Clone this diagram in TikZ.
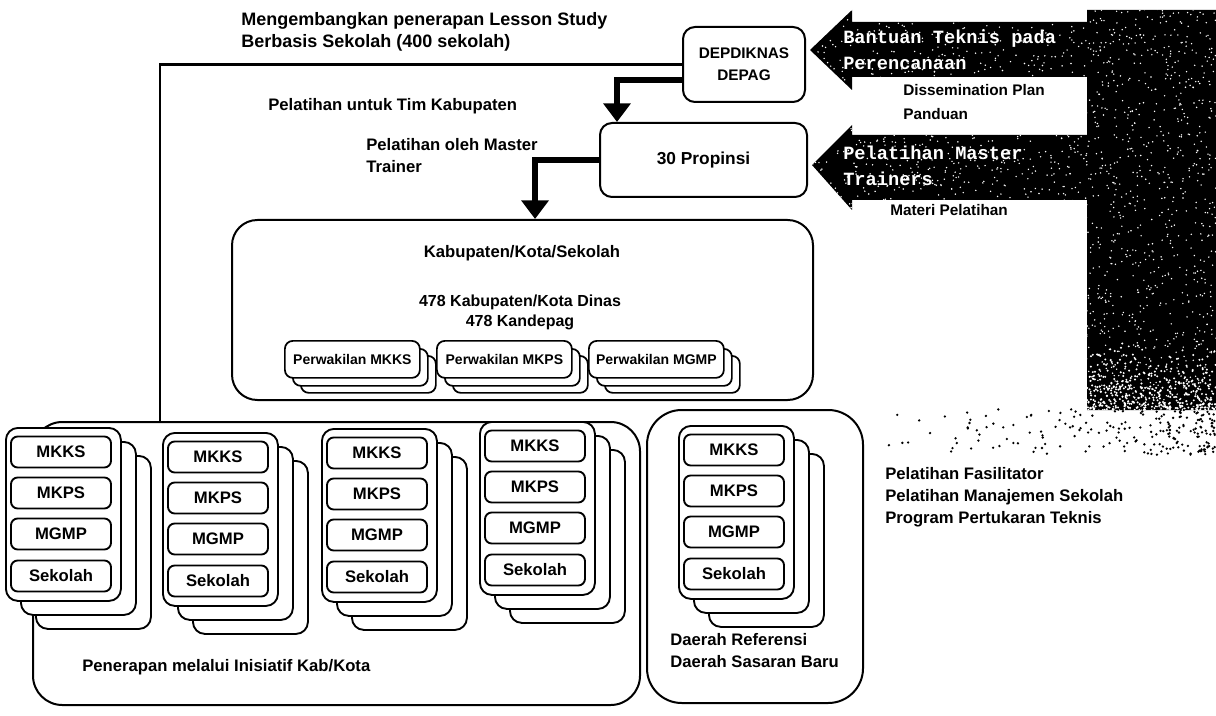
\documentclass[tikz,border=0pt]{standalone}
\usepackage{fontspec}
\setmainfont{Liberation Sans}
\newfontfamily\monob{Liberation Mono}
\usetikzlibrary{arrows.meta,calc}
\newcommand\cardstack[3]{%
  \node[card,anchor=north west] (#1b2) at (#2+30,#3+28) {};
  \node[card,anchor=north west] (#1b1) at (#2+15,#3+14) {};
  \node[card,anchor=north west] (#1) at (#2,#3) {};
  \node[row] (#1r1) at (#2+56,#3+25) {MKKS};
  \node[row] (#1r2) at (#2+56,#3+66) {MKPS};
  \node[row] (#1r3) at (#2+56,#3+107) {MGMP};
  \node[row] (#1r4) at (#2+56,#3+149) {Sekolah};
}
\newcommand\pstack[4]{%
  \node[pcard,anchor=north west] (#1b2) at (#2+16,#3+15) {};
  \node[pcard,anchor=north west] (#1b1) at (#2+8,#3+8) {};
  \node[pcard,anchor=north west] (#1) at (#2,#3) {#4};
}
\begin{document}
\begin{tikzpicture}[x=0.75pt,y=-0.75pt,
  box/.style={draw,fill=white,line width=1.5pt,rounded corners=9pt,inner sep=0pt,align=center},
  card/.style={draw,fill=white,line width=1.4pt,rounded corners=9pt,inner sep=0pt,minimum width=86.25pt,minimum height=129.75pt},
  row/.style={draw,fill=white,line width=1.4pt,rounded corners=5pt,inner sep=0pt,minimum width=75pt,minimum height=23.25pt,font=\bfseries\fontsize{12.5}{14}\selectfont},
  pcard/.style={draw,fill=white,line width=1.3pt,rounded corners=6pt,inner sep=0pt,minimum width=101.25pt,minimum height=27.75pt,font=\bfseries\fontsize{10.5}{12}\selectfont},
  lbl/.style={font=\bfseries\fontsize{12.5}{16.5}\selectfont,align=left,inner sep=0pt,anchor=west},
  wlbl/.style={font=\monob\bfseries\fontsize{14}{19.5}\selectfont,text=white,align=left,inner sep=0pt,anchor=west},
  fat/.style={line width=4.5pt,-{Triangle[width=20pt,length=14pt]}},
  frame/.style={line width=1.8pt},
]
\useasboundingbox (0,0) rectangle (1216,716);

% black arrows and block on the right
\pgfmathsetseed{42}
\begin{scope}
  \clip (810,50) -- (852,10) -- (852,22) -- (1087,22) -- (1087,10) -- (1216,10) -- (1216,410) -- (1087,410) -- (1087,200) -- (852,200) -- (852,210) -- (812,165) -- (852,125) -- (852,135) -- (1087,135) -- (1087,77) -- (852,77) -- (852,90) -- cycle;
  \fill[black] (800,0) rectangle (1216,420);
  \foreach \i in {1,...,2600} \fill[white] ({805+411*rnd},{8+402*rnd}) circle (0.8);
  \foreach \i in {1,...,500} \fill[white] ({1087+129*rnd},{411-70*rnd*rnd}) circle (1.1);
\end{scope}
\foreach \i in {1,...,220} \fill[black] ({1216-340*rnd*rnd},{405+50*rnd}) circle (1.3);

\node[wlbl] (tb) at (843,50) {Bantuan Teknis pada\\Perencanaan};
\node[wlbl] (tm) at (843,166) {Pelatihan Master\\Trainers};
\node[lbl,font=\bfseries\fontsize{11.5}{18.5}\selectfont] (tdp) at (903,102) {Dissemination Plan\\Panduan};
\node[lbl,font=\bfseries\fontsize{11.5}{14}\selectfont] (tmp) at (890,210) {Materi Pelatihan};
\node[lbl] (tpf) at (885,497) {Pelatihan Fasilitator\\Pelatihan Manajemen Sekolah\\Program Pertukaran Teknis};

% main boxes
\node[box,rounded corners=22pt,minimum width=455.25pt,minimum height=212.25pt] (bot) at (336.5,563.5) {};
\node[box,rounded corners=26pt,minimum width=162pt,minimum height=219.75pt] (dae) at (755,556.5) {};
\node[box,font=\bfseries\fontsize{11.5}{16.5}\selectfont,minimum width=91.5pt,minimum height=56.25pt] (dep) at (744,64.5) {DEPDIKNAS\\DEPAG};
\node[box,font=\bfseries\fontsize{13}{16}\selectfont,minimum width=155.25pt,minimum height=55.5pt] (prop) at (703.5,160) {30 Propinsi};
\node[box,rounded corners=19pt,minimum width=435.75pt,minimum height=135pt] (kab) at (522.5,310) {};

% outer frame
\coordinate (fc) at (160,64.5);
\draw[frame] (dep.west) -- (fc) -- (fc |- bot.north);

% thick connectors
\draw[fat] ([yshift=-11.5pt]dep.west) -| ([xshift=13.5pt]prop.north west);
\draw[fat] (prop.west) -| ([xshift=9.4pt]kab.north);

% texts top-left
\node[lbl,font=\bfseries\fontsize{13.5}{16.5}\selectfont] (t1) at (241,32) {Mengembangkan penerapan Lesson Study\\Berbasis Sekolah (400 sekolah)};
\node[lbl] (t2) at (268,106) {Pelatihan untuk Tim Kabupaten};
\node[lbl] (t3) at (366,156) {Pelatihan oleh Master\\Trainer};

% Kabupaten box content
\node[lbl,anchor=center,align=center] (tk) at (522,253) {Kabupaten/Kota/Sekolah};
\node[lbl,anchor=center,align=center,font=\bfseries\fontsize{12}{15}\selectfont] (tk2) at (520,312) {478 Kabupaten/Kota Dinas\\478 Kandepag};
\pstack{pk}{284}{340}{Perwakilan MKKS}
\pstack{pp}{436}{340}{Perwakilan MKPS}
\pstack{pg}{588}{340}{Perwakilan MGMP}

% stacks
\cardstack{s1}{5}{427}
\cardstack{s2}{162}{432}
\cardstack{s3}{321}{428}
\cardstack{s4}{479}{421}
\cardstack{s5}{678}{425}

% bottom texts
\node[lbl] (tpen) at (82,667) {Penerapan melalui Inisiatif Kab/Kota};
\node[lbl] (tdae) at (670,651) {Daerah Referensi\\Daerah Sasaran Baru};
\end{tikzpicture}
\end{document}
